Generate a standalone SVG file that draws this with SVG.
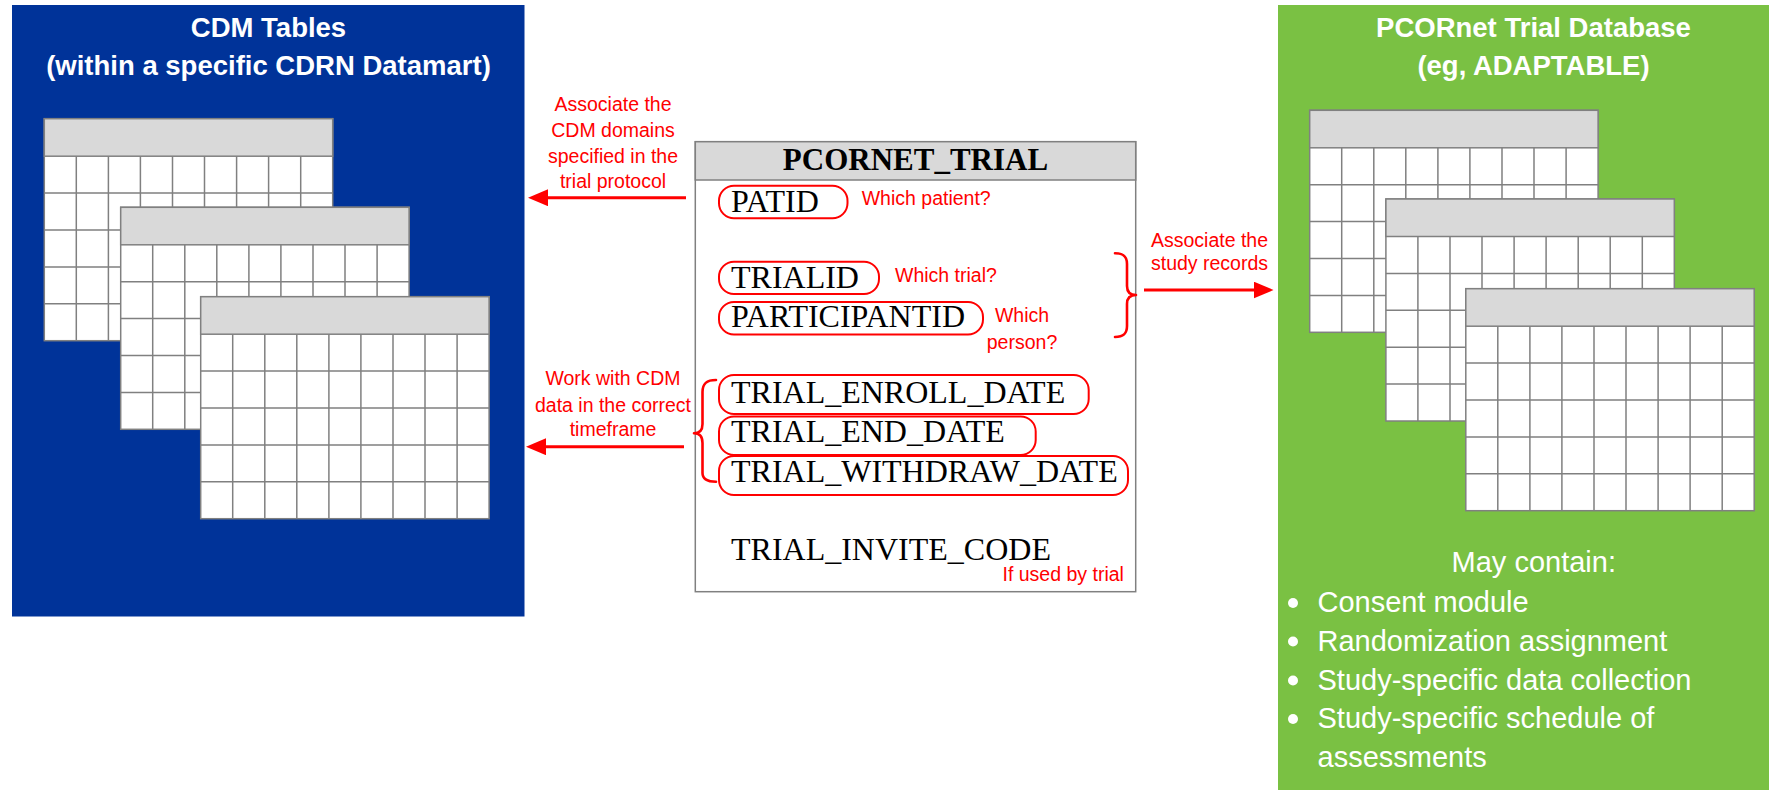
<svg xmlns="http://www.w3.org/2000/svg" xmlns:xlink="http://www.w3.org/1999/xlink" width="1769" height="790" viewBox="0 0 1769 790">
<style>
.ttl{font-family:"Liberation Sans",Arial,sans-serif;font-weight:bold;font-size:27.5px;fill:#fff;text-anchor:middle}
.lbl{font-family:"Liberation Sans",Arial,sans-serif;font-size:19.5px;fill:#FF0000}
.mid{text-anchor:middle}
.fld{font-family:"Liberation Serif","Times New Roman",serif;font-size:32px;fill:#000}
.oval{fill:none;stroke:#FF0000;stroke-width:2}
.brace{fill:none;stroke:#FF0000;stroke-width:2.6;stroke-linecap:round;stroke-linejoin:round}
.arr{stroke:#FF0000;stroke-width:3;fill:none}
.wt{font-family:"Liberation Sans",Arial,sans-serif;font-size:29px;fill:#fff}
.grid{stroke:#808080;stroke-width:1.5;fill:none}
</style>
<defs>
<marker id="ah" markerUnits="userSpaceOnUse" markerWidth="21" markerHeight="18" refX="4" refY="8.5" orient="auto">
<path d="M0,0 L20,8.5 L0,17 Z" fill="#FF0000"/>
</marker>
<g id="tbl">
<rect x="0" y="0" width="288.4" height="222" fill="#fff" stroke="#808080" stroke-width="1.5"/>
<rect x="0" y="0" width="288.4" height="37.5" fill="#D9D9D9" stroke="#808080" stroke-width="1.5"/>
<path class="grid" d="M0,74.4H288.4M0,111.3H288.4M0,148.2H288.4M0,185.1H288.4M32,37.5V222M64.1,37.5V222M96.1,37.5V222M128.2,37.5V222M160.2,37.5V222M192.3,37.5V222M224.3,37.5V222M256.4,37.5V222"/>
</g>
</defs>
<rect width="1769" height="790" fill="#fff"/>

<g id="cdm-tables">
<rect x="12" y="5" width="512.5" height="611.5" fill="#003399"/>
<text class="ttl" x="268.5" y="37">CDM Tables</text>
<text class="ttl" x="268.5" y="75">(within a specific CDRN Datamart)</text>
<use xlink:href="#tbl" x="44.3" y="118.7"/>
<use xlink:href="#tbl" x="120.7" y="207.3"/>
<use xlink:href="#tbl" x="200.7" y="296.7"/>
</g>

<g id="pcornet-trial-database">
<rect x="1278" y="5" width="491" height="785" fill="#7AC143"/>
<text class="ttl" x="1533.5" y="37">PCORnet Trial Database</text>
<text class="ttl" x="1533.5" y="75">(eg, ADAPTABLE)</text>
<use xlink:href="#tbl" x="1309.7" y="110.3"/>
<use xlink:href="#tbl" x="1385.9" y="199"/>
<use xlink:href="#tbl" x="1465.8" y="288.7"/>
<text class="wt" x="1533.8" y="571.7" text-anchor="middle">May contain:</text>
<g fill="#fff">
<circle cx="1293" cy="603" r="5"/>
<circle cx="1293" cy="641.5" r="5"/>
<circle cx="1293" cy="680.5" r="5"/>
<circle cx="1293" cy="719" r="5"/>
</g>
<text class="wt" x="1317.5" y="612">Consent module</text>
<text class="wt" x="1317.5" y="650.5">Randomization assignment</text>
<text class="wt" x="1317.5" y="689.5">Study-specific data collection</text>
<text class="wt" x="1317.5" y="728">Study-specific schedule of</text>
<text class="wt" x="1317.5" y="766.5">assessments</text>
</g>

<g id="pcornet-trial">
<rect x="695.3" y="141.7" width="440.4" height="450" fill="#fff" stroke="#808080" stroke-width="1.5"/>
<rect x="695.3" y="141.7" width="440.4" height="38.3" fill="#D9D9D9" stroke="#808080" stroke-width="1.5"/>
<text x="915.5" y="170" font-family="'Liberation Serif','Times New Roman',serif" font-weight="bold" font-size="31" text-anchor="middle">PCORNET_TRIAL</text>
<rect class="oval" x="719" y="185.7" width="128.5" height="32.6" rx="15"/>
<rect class="oval" x="719" y="261.7" width="160" height="32.3" rx="15"/>
<rect class="oval" x="719" y="302" width="264" height="32.5" rx="15"/>
<rect class="oval" x="719" y="375" width="369.7" height="39" rx="15"/>
<rect class="oval" x="719" y="416.5" width="316.7" height="38.5" rx="15"/>
<rect class="oval" x="719" y="456" width="409" height="39" rx="15"/>
<text class="fld" x="731" y="211.7">PATID</text>
<text class="fld" x="731" y="288.3">TRIALID</text>
<text class="fld" x="731" y="326.7">PARTICIPANTID</text>
<text class="fld" x="731" y="403.3">TRIAL_ENROLL_DATE</text>
<text class="fld" x="731" y="441.7">TRIAL_END_DATE</text>
<text class="fld" x="731" y="481.7">TRIAL_WITHDRAW_DATE</text>
<text class="fld" x="731" y="560">TRIAL_INVITE_CODE</text>
<text class="lbl" x="861.7" y="205">Which patient?</text>
<text class="lbl" x="895" y="281.7">Which trial?</text>
<text class="lbl mid" x="1022" y="322">Which</text>
<text class="lbl mid" x="1022" y="349">person?</text>
<text class="lbl" x="1002.5" y="581">If used by trial</text>
</g>

<g id="connectors">
<path class="brace" d="M716,380 C706.5,380 702.5,383.5 702.5,392 L702.5,424 C702.5,430 699.5,433.3 694,433.3 C699.5,433.3 702.5,437 702.5,443 L702.5,473 C702.5,479 706.5,481.7 716,481.7"/>
<path class="brace" d="M1115,253.3 C1124,253.3 1127,257 1127,264 L1127,286 C1127,292 1130.5,295 1136,295 C1130.5,295 1127,298 1127,304 L1127,326 C1127,333 1124,337 1115,337"/>
<line class="arr" x1="686" y1="197.7" x2="544" y2="197.7" marker-end="url(#ah)"/>
<line class="arr" x1="684" y1="446.7" x2="542" y2="446.7" marker-end="url(#ah)"/>
<line class="arr" x1="1144" y1="290" x2="1257.5" y2="290" marker-end="url(#ah)"/>
<text class="lbl mid" x="613" y="110.7">Associate the</text>
<text class="lbl mid" x="613" y="136.7">CDM domains</text>
<text class="lbl mid" x="613" y="162.7">specified in the</text>
<text class="lbl mid" x="613" y="188.3">trial protocol</text>
<text class="lbl mid" x="613" y="385">Work with CDM</text>
<text class="lbl mid" x="613" y="411.7">data in the correct</text>
<text class="lbl mid" x="613" y="436">timeframe</text>
<text class="lbl mid" x="1209.5" y="246.7">Associate the</text>
<text class="lbl mid" x="1209.5" y="270">study records</text>
</g>
</svg>
